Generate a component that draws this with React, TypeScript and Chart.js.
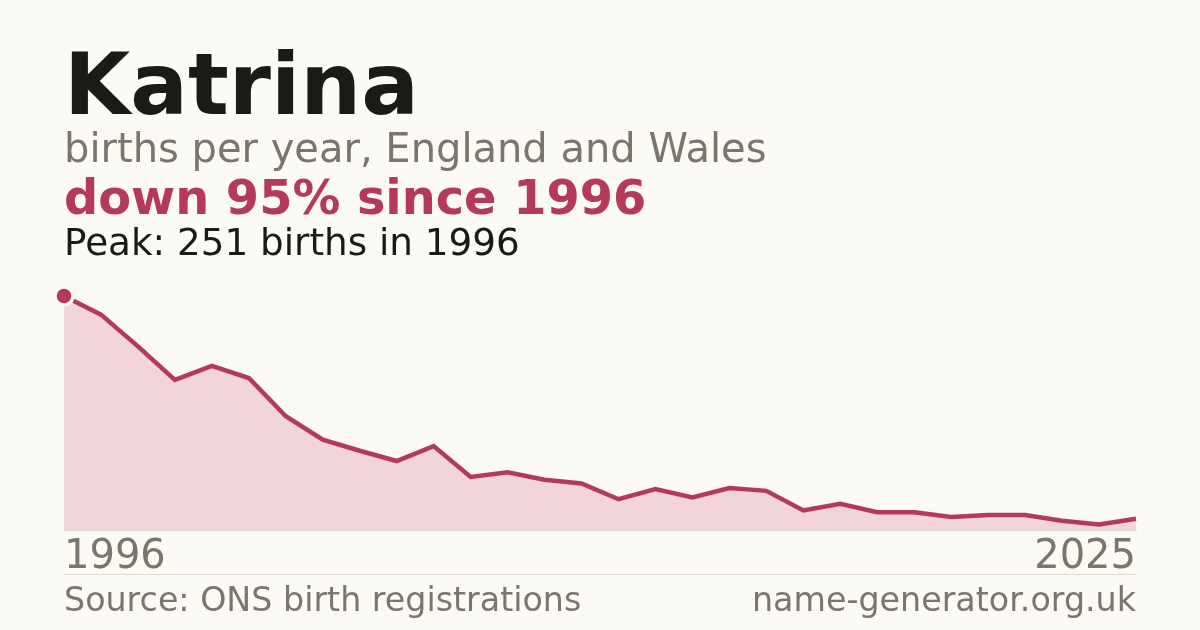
import React, { useEffect, useRef } from "react";
import { Chart, ChartConfiguration } from "chart.js/auto";

const years = [
  "1996", "1997", "1998", "1999", "2000", "2001", "2002", "2003", "2004", "2005",
  "2006", "2007", "2008", "2009", "2010", "2011", "2012", "2013", "2014", "2015",
  "2016", "2017", "2018", "2019", "2020", "2021", "2022", "2023", "2024", "2025",
];
const births = [
  251, 231, 197, 161, 176, 163, 122, 97, 85, 74,
  90, 57, 62, 54, 50, 33, 44, 35, 45, 42,
  21, 28, 19, 19, 14, 16, 16, 10, 6, 12,
];
const shownTicks = ["1996", "2025"];

const BG = "#fbfaf5";
const ACCENT = "#b5395a";
const FILL = "#f2d5da";
const GREY = "#7a756d";
const FONT = "'DejaVu Sans', sans-serif";

const peakIndex = births.indexOf(Math.max(...births));

const App: React.FC = () => {
  const canvasRef = useRef<HTMLCanvasElement>(null);
  const chartInstance = useRef<Chart>();

  useEffect(() => {
    if (!canvasRef.current) return;
    const ctx = canvasRef.current.getContext("2d");
    if (!ctx) return;

    Chart.defaults.font.family = FONT;

    const config: ChartConfiguration = {
      type: "line",
      data: {
        labels: years,
        datasets: [
          {
            data: births,
            borderColor: ACCENT,
            borderWidth: 4.5,
            backgroundColor: FILL,
            fill: "origin",
            tension: 0,
            clip: false as any,
            pointRadius: births.map((_, i) => (i === peakIndex ? 9 : 0)),
            pointHoverRadius: 0,
            pointBackgroundColor: ACCENT,
            pointBorderColor: BG,
            pointBorderWidth: 3.5,
          },
        ],
      },
      options: {
        responsive: false,
        animation: false,
        events: [],
        layout: { padding: { left: 64, right: 64, top: 296, bottom: 0 } },
        plugins: {
          legend: { display: false },
          tooltip: { enabled: false },
        },
        scales: {
          x: {
            offset: false,
            grid: { display: false, drawTicks: false },
            border: { display: true, color: "#dcd8cf", width: 1 },
            afterFit: (scale: any) => {
              scale.height = 100;
            },
            ticks: {
              autoSkip: false,
              maxRotation: 0,
              align: "inner",
              padding: 4,
              color: GREY,
              font: { family: FONT, size: 40 },
              callback: function (this: any, _v: any, i: number) {
                const label = years[i];
                return shownTicks.includes(label) ? label : "";
              },
            },
          },
          y: {
            display: false,
            min: 0,
            max: 251,
          },
        },
      },
    };

    chartInstance.current = new Chart(ctx, config);
    return () => {
      if (chartInstance.current) {
        chartInstance.current.destroy();
      }
    };
  }, []);

  const text = (top: number, size: number, color: string, bold: boolean, s: string, extra: React.CSSProperties = {}) => (
    <div
      style={{
        position: "absolute",
        top,
        left: 64,
        fontFamily: FONT,
        fontSize: size,
        lineHeight: 1,
        fontWeight: bold ? 700 : 400,
        color,
        whiteSpace: "nowrap",
        ...extra,
      }}
    >
      {s}
    </div>
  );

  return (
    <div
      style={{
        position: "fixed",
        left: 0,
        top: 0,
        width: 1200,
        height: 630,
        background: BG,
        overflow: "hidden",
      }}
    >
      <canvas
        ref={canvasRef}
        width={1200}
        height={630}
        style={{ position: "absolute", left: 0, top: 0, width: 1200, height: 630 }}
      />
      {text(42, 85.5, "#1a1a18", true, "Katrina")}
      {text(128, 40, GREY, false, "births per year, England and Wales")}
      {text(174, 47.8, ACCENT, true, "down 95% since 1996")}
      {text(224, 37.3, "#1a1a18", false, "Peak: 251 births in 1996")}
      <div
        style={{
          position: "absolute",
          left: 64,
          width: 1072,
          top: 574,
          height: 1,
          background: "#dedad2",
        }}
      />
      {text(583, 33.3, GREY, false, "Source: ONS birth registrations")}
      {text(583, 33.3, GREY, false, "name-generator.org.uk", { left: "auto", right: 64 })}
    </div>
  );
};

export default App;
